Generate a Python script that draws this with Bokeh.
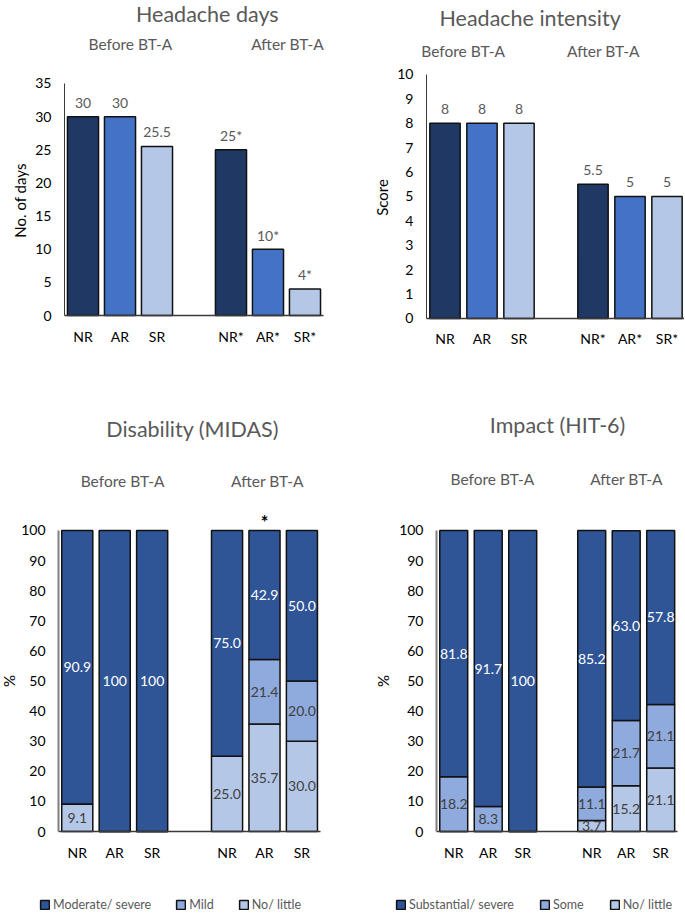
from bokeh.plotting import figure
from bokeh.models import ColumnDataSource, Range1d, FixedTicker, Legend, LegendItem
from bokeh.layouts import column, row
from bokeh.embed import file_html
from bokeh.resources import INLINE
from bokeh.core.properties import value
import math

FONT = "Lato"
GREY_TEXT = "#595959"

# ---------------- data ----------------
responders = ["NR", "AR", "SR"]
groups = ["Before BT-A", "After BT-A"]

days_before = [30, 30, 25.5]
days_after = [25, 10, 4]
days_after_labels = ["25*", "10*", "4*"]
days_ticks = ["NR", "AR", "SR", "NR*", "AR*", "SR*"]

intensity_before = [8, 8, 8]
intensity_after = [5.5, 5, 5]
intensity_ticks = ["NR", "AR", "SR", "NR*", "AR*", "SR*"]

midas_levels = ["No/ little", "Mild", "Moderate/ severe"]          # stack order, bottom first
midas_little = [9.1, 0, 0, 25.0, 35.7, 30.0]
midas_mild = [0, 0, 0, 0, 21.4, 20.0]
midas_severe = [90.9, 100, 100, 75.0, 42.9, 50.0]
midas_ticks = ["NR", "AR", "SR", "NR", "AR", "SR"]

hit_levels = ["No/ little", "Some", "Substantial/ severe"]
hit_little = [0, 0, 0, 3.7, 15.2, 21.1]
hit_some = [18.2, 8.3, 0, 11.1, 21.7, 21.1]
hit_severe = [81.8, 91.7, 100, 85.2, 63.0, 57.8]
hit_ticks = ["NR", "AR", "SR", "NR", "AR", "SR"]

bar_colors = ["#203864", "#4472C4", "#B4C7E7"]
stack_colors = ["#B4C7E7", "#8FAADC", "#2F5597"]

# slot positions: three "before" bars, one empty slot, three "after" bars
n = len(responders)
positions = list(range(n)) + [i + n + 1 for i in range(n)]


def base_fig(W, H, x0, x1, y0, y1, ytop, ystep):
    p = figure(width=W, height=H, min_border=0, min_border_left=0, min_border_right=0,
               min_border_top=0, min_border_bottom=0,
               x_range=Range1d(x0, x1), y_range=Range1d(y0, y1),
               output_backend="svg", toolbar_location=None, title=None)
    p.outline_line_color = None
    p.grid.visible = False
    p.border_fill_color = "white"
    p.background_fill_color = "white"
    for ax in (p.xaxis[0], p.yaxis[0]):
        ax.major_tick_out = 0
        ax.major_tick_in = 0
        ax.minor_tick_out = 0
        ax.minor_tick_in = 0
        ax.major_tick_line_color = None
        ax.minor_tick_line_color = None
        ax.major_label_text_font = FONT
        ax.major_label_text_font_size = "14px"
        ax.major_label_text_color = "#000000"
        ax.major_label_standoff = 13
    p.xaxis.fixed_location = 0
    p.xaxis.bounds = (-0.5, positions[-1] + 0.5)
    p.xaxis.axis_line_color = "#3a3a3a"
    p.xaxis.axis_line_width = 1.5
    p.xaxis.ticker = FixedTicker(ticks=positions)
    p.xaxis.major_label_standoff = 12
    p.yaxis.fixed_location = -0.5
    p.yaxis.bounds = (0, ytop)
    p.yaxis.ticker = FixedTicker(ticks=list(range(0, ytop + 1, ystep)))
    p.yaxis.axis_line_color = "#3a3a3a"
    return p


def add_text(p, x, y, txt, size, color=GREY_TEXT, style="normal", y_offset=0, angle=0,
             baseline="alphabetic"):
    p.text(x=[x], y=[y], text=[txt], text_font=value(FONT), text_font_size=size,
           text_color=color, text_align="center", text_baseline=baseline,
           text_font_style=style, y_offset=y_offset, angle=angle)


def add_ylabel(p, x, y, txt):
    add_text(p, x, y, txt, "15px", color="#000000", angle=math.pi / 2, baseline="middle")


def simple_bars(p, before, after, after_labels, ticks, width):
    vals = before + after
    labels = [f"{v:g}" for v in before] + after_labels
    src = ColumnDataSource(dict(x=positions, top=vals, color=bar_colors + bar_colors, label=labels))
    p.vbar(x="x", top="top", bottom=0, width=width, fill_color="color",
           line_color="#111111", line_width=1.5, source=src)
    p.text(x="x", y="top", text="label", source=src, text_font=value(FONT),
           text_font_size="14px", text_color=GREY_TEXT, text_align="center",
           text_baseline="alphabetic", y_offset=-14)
    p.xaxis.major_label_overrides = {pos: t for pos, t in zip(positions, ticks)}


# ---------------- Headache days ----------------
p1 = base_fig(340, 365, -2.23, 6.96, -7.54, 47.52, 35, 5)
simple_bars(p1, days_before, days_after, days_after_labels, days_ticks, 0.84)
add_text(p1, 3.36, 45.5, "Headache days", "21.5px")
add_text(p1, 1.28, 40.9, groups[0], "15.5px")
add_text(p1, 5.53, 40.9, groups[1], "15.5px")
add_ylabel(p1, -1.69, 17.35, "No. of days")

# ---------------- Headache intensity ----------------
p2 = base_fig(344, 365, -2.824, 6.473, -1.926, 13.03, 10, 1)
simple_bars(p2, intensity_before, intensity_after, [f"{v:g}" for v in intensity_after],
            intensity_ticks, 0.82)
add_text(p2, 2.30, 12.30, "Headache intensity", "21.5px")
add_text(p2, 0.49, 10.98, groups[0], "15.5px")
add_text(p2, 4.28, 10.98, groups[1], "15.5px")
add_ylabel(p2, -1.71, 4.96, "Score")


# ---------------- stacked charts ----------------
def stacked(p, levels, series, ticks, width, legend_x, spacing):
    data = dict(x=positions)
    for lvl, s in zip(levels, series):
        data[lvl] = s
    src = ColumnDataSource(data)
    rends = p.vbar_stack(levels, x="x", width=width, color=stack_colors,
                         line_color="#111111", line_width=1.5, source=src)
    lx, ly, lt, lc = [], [], [], []
    for j, pos in enumerate(positions):
        bottom = 0
        for k, s in enumerate(series):
            v = s[j]
            if v > 0:
                lx.append(pos)
                ly.append(bottom + v / 2)
                lt.append("100" if v == 100 else f"{v:.1f}")
                lc.append("#ffffff" if k == len(series) - 1 else "#404040")
            bottom += v
    p.text(x=lx, y=ly, text=lt, text_color=lc, text_font=value(FONT),
           text_font_size="14px", text_align="center", text_baseline="middle")
    p.xaxis.major_label_overrides = {pos: t for pos, t in zip(positions, ticks)}
    p.yaxis.axis_line_color = "#7f7f7f"
    p.yaxis.axis_line_width = 2
    items = [LegendItem(label=lvl, renderers=[r]) for lvl, r in zip(levels, rends)][::-1]
    leg = Legend(items=items, location=(legend_x, 0), orientation="horizontal",
                 padding=0, margin=0, spacing=spacing, glyph_width=11, glyph_height=11,
                 label_standoff=3, label_height=14, label_text_font=FONT,
                 label_text_font_size="12.5px", label_text_color=GREY_TEXT,
                 label_text_baseline="middle",
                 border_line_color=None, background_fill_alpha=0)
    p.add_layout(leg)


p3 = base_fig(340, 547, -2.05, 7.03, -26.9, 154.8, 100, 10)
stacked(p3, midas_levels, [midas_little, midas_mild, midas_severe], midas_ticks, 0.83, 39, 24)
add_text(p3, 3.08, 133.6, "Disability (MIDAS)", "21.5px")
add_text(p3, 1.21, 116.3, groups[0], "15.5px")
add_text(p3, 5.08, 116.3, groups[1], "15.5px")
add_text(p3, 5, 100, "*", "18px", color="#000000", style="bold", y_offset=-8)
add_ylabel(p3, -1.81, 50, "%")

p4 = base_fig(344, 547, -3.283, 6.69, -26.9, 154.8, 100, 10)
stacked(p4, hit_levels, [hit_little, hit_some, hit_severe], hit_ticks, 0.81, 55, 25)
add_text(p4, 3.01, 135.2, "Impact (HIT-6)", "21.5px")
add_text(p4, 1.12, 117.2, groups[0], "15.5px")
add_text(p4, 5.01, 117.2, groups[1], "15.5px")
add_ylabel(p4, -2.04, 50, "%")

layout = column(row(p1, p2), row(p3, p4))
open("out.html", "w").write(file_html(layout, INLINE))
